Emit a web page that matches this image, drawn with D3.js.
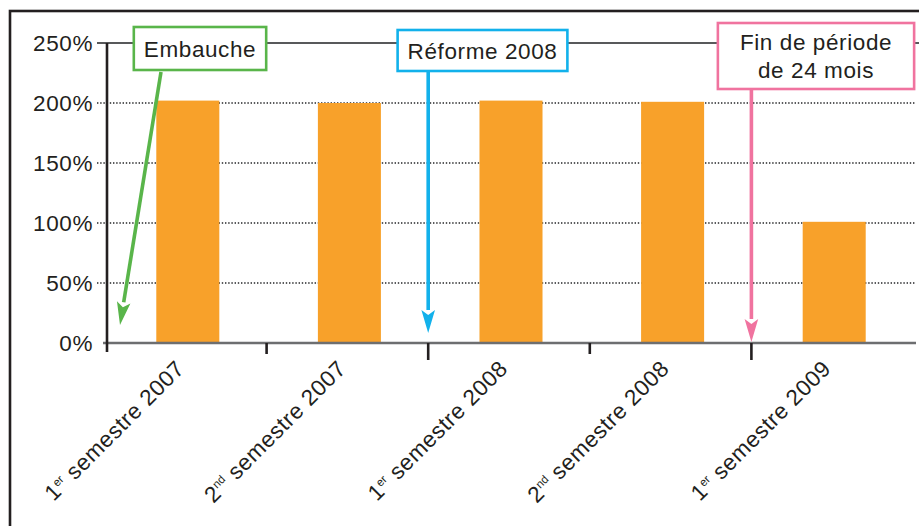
<!DOCTYPE html>
<html>
<head>
<meta charset="utf-8">
<script src="https://cdn.jsdelivr.net/npm/d3@7"></script>
<style>
  body { margin: 0; background: #fff; }
  svg text { font-family: "Liberation Sans", Arial, sans-serif; fill: #231f20; letter-spacing: 0.6px; }
</style>
</head>
<body>
<div class="canvas"></div>
<script>
// data
const periods = ['1|er|semestre 2007', '2|nd|semestre 2007', '1|er|semestre 2008', '2|nd|semestre 2008', '1|er|semestre 2009'];
const values = [202, 200, 202, 201, 101];
const yTicks = [0, 50, 100, 150, 200, 250];
const eventLabels = [['Embauche'], ['Réforme 2008'], ['Fin de période', 'de 24 mois']];
const eventAt = [0, 2, 4];   // boundary index between periods
const eventColors = ['#59b54a', '#12b1eb', '#f0739f'];

const dims = { width: 919, height: 526 };
const svg = d3.select('.canvas')
    .append('svg')
    .attr('width', dims.width)
    .attr('height', dims.height);

// outer frame
svg.append('rect')
    .attr('x', 10).attr('y', 11)
    .attr('width', 930).attr('height', 540)
    .attr('fill', 'none')
    .attr('stroke', '#231f20')
    .attr('stroke-width', 2.6);

const x = d3.scaleBand()
    .domain(periods)
    .range([107, 915])
    .paddingInner(0.61)
    .paddingOuter(0.305);

const y = d3.scaleLinear()
    .domain([0, 250])
    .range([343, 43]);

const boundary = i => x.range()[0] + i * x.step();

// grid lines
svg.append('g').selectAll('line')
    .data(yTicks.filter(d => d > 0))
    .enter().append('line')
    .attr('x1', 97)
    .attr('x2', d => d === 250 ? 919 : 915)
    .attr('y1', d => y(d)).attr('y2', d => y(d))
    .attr('stroke', d => d === 250 ? '#58595b' : '#5a5b5d')
    .attr('stroke-width', d => d === 250 ? 2.2 : 2.2)
    .attr('stroke-dasharray', d => d === 250 ? null : '1.4,1.8');

// y tick labels
svg.append('g').selectAll('text')
    .data(yTicks)
    .enter().append('text')
    .attr('x', 93)
    .attr('y', d => y(d))
    .attr('dy', '0.35em')
    .attr('text-anchor', 'end')
    .style('font-size', '22.5px')
    .text(d => d + '%');

// bars
svg.append('g').selectAll('rect')
    .data(values)
    .enter().append('rect')
    .attr('x', (d, i) => x(periods[i]))
    .attr('width', x.bandwidth())
    .attr('y', d => y(d))
    .attr('height', d => y(0) - y(d))
    .attr('fill', '#f8a12a');

// baseline
svg.append('line')
    .attr('x1', 103).attr('x2', 916)
    .attr('y1', y(0)).attr('y2', y(0))
    .attr('stroke', '#6d6e70')
    .attr('stroke-width', 2.6);

// y axis line
svg.append('line')
    .attr('x1', 107).attr('x2', 107)
    .attr('y1', y(250)).attr('y2', y(0) + 9)
    .attr('stroke', '#231f20')
    .attr('stroke-width', 2.6);

// x ticks at period boundaries
svg.append('g').selectAll('line')
    .data(d3.range(1, periods.length))
    .enter().append('line')
    .attr('x1', d => boundary(d) - 2).attr('x2', d => boundary(d) - 2)
    .attr('y1', y(0))
    .attr('y2', d => y(0) + (d % 2 === 0 ? 17 : 11))
    .attr('stroke', '#231f20')
    .attr('stroke-width', 2.6);

// x labels, rotated
const xl = svg.append('g').selectAll('text')
    .data(periods)
    .enter().append('text')
    .attr('text-anchor', 'end')
    .attr('transform', d => `translate(${x(d) + x.bandwidth() / 2 - 2}, ${y(0) + 27}) rotate(-45)`)
    .style('font-size', '22.5px');

xl.each(function(d) {
    const [num, sup, rest] = d.split('|');
    const t = d3.select(this);
    t.append('tspan').text(num);
    t.append('tspan').attr('dy', -8).style('font-size', '11.5px').style('letter-spacing', '0px').text(sup);
    t.append('tspan').attr('dy', 8).text(' ' + rest);
});

// annotations
const boxes = [
    { cx: 200, top: 27, bottom: 70, from: [161, 72], to: [120, 325] },
    { cx: 482.5, top: 30, bottom: 71, from: [0, 71], to: [0, 333] },
    { cx: 816, top: 23, bottom: 89, from: [0, 89], to: [0, 342] }
];

eventLabels.forEach((lines, i) => {
    const b = boxes[i];
    const ex = boundary(eventAt[i]) - (i === 0 ? 0 : 2);
    const col = eventColors[i];
    const x0 = i === 0 ? b.from[0] : ex;
    const x1 = i === 0 ? b.to[0] : ex;
    const y0 = b.from[1], y1 = b.to[1];

    // arrow shaft + head
    const ang = Math.atan2(y1 - y0, x1 - x0);
    const headLen = 23, headW = 6.8;
    const bx = x1 - headLen * Math.cos(ang), by = y1 - headLen * Math.sin(ang);
    svg.append('line')
        .attr('x1', x0).attr('y1', y0)
        .attr('x2', bx).attr('y2', by)
        .attr('stroke', col)
        .attr('stroke-width', 3.6);
    const px = -Math.sin(ang) * headW, py = Math.cos(ang) * headW;
    svg.append('path')
        .attr('d', `M${x1},${y1} L${bx + px},${by + py} L${x1 - 18 * Math.cos(ang)},${y1 - 18 * Math.sin(ang)} L${bx - px},${by - py} Z`)
        .attr('fill', col);

    // label box
    const g = svg.append('g');
    const txt = g.append('text')
        .attr('text-anchor', 'middle')
        .style('font-size', '22.5px');
    const lh = 28;
    const midY = (b.top + b.bottom) / 2;
    lines.forEach((l, j) => {
        txt.append('tspan')
            .attr('x', b.cx)
            .attr('y', midY + (j - (lines.length - 1) / 2) * lh)
            .attr('dy', '0.36em')
            .text(l);
    });
    const bb = txt.node().getBBox();
    const padX = i === 2 ? 22 : 10;
    g.insert('rect', 'text')
        .attr('x', bb.x - padX)
        .attr('y', b.top)
        .attr('width', bb.width + padX * 2)
        .attr('height', b.bottom - b.top)
        .attr('fill', '#fff')
        .attr('stroke', col)
        .attr('stroke-width', 2.6);
});
</script>
</body>
</html>
